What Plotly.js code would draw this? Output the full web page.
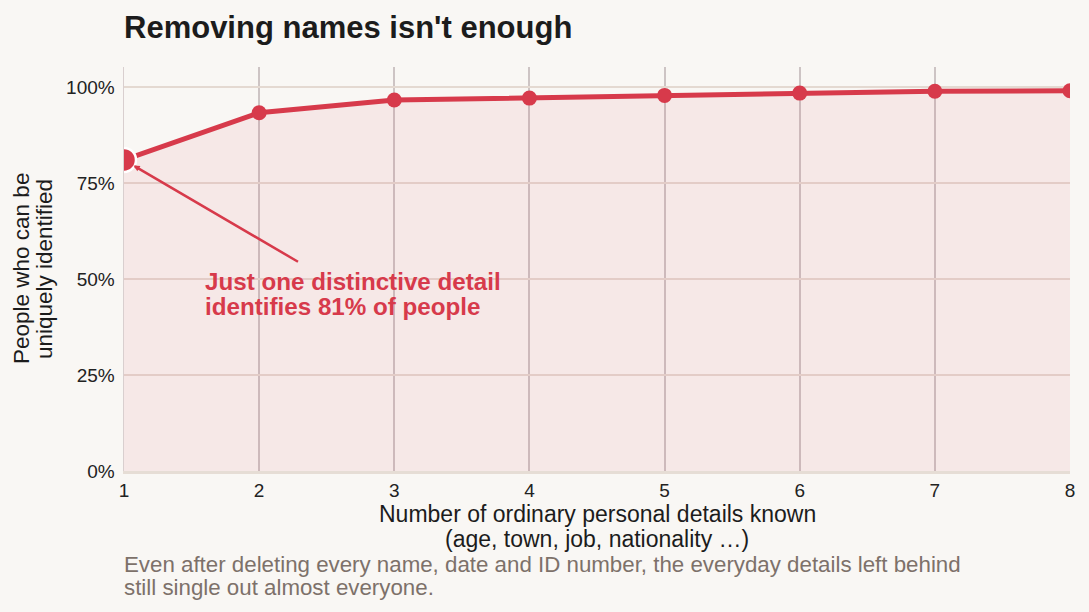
<!DOCTYPE html>
<html>
<head>
<meta charset="utf-8">
<script src="https://cdn.plot.ly/plotly-3.0.1.min.js"></script>
<style>
html,body{margin:0;padding:0;background:#f9f7f4;}
#chart{width:1089px;height:612px;}
</style>
</head>
<body>
<div id="chart"></div>
<script>
const detailsKnown = [1, 2, 3, 4, 5, 6, 7, 8];
const pctIdentified = [81, 93.3, 96.6, 97.1, 97.8, 98.4, 98.9, 99.0];
const highlightIndex = 0;
const yTickVals = [0, 25, 50, 75, 100];
const yTickText = ["0%", "25%", "50%", "75%", "100%"];
const titleText = "Removing names isn't enough";
const xTitleLines = ["Number of ordinary personal details known", "(age, town, job, nationality …)"];
const yTitleLines = ["People who can be", "uniquely identified"];
const calloutLines = ["Just one distinctive detail", "identifies 81% of people"];
const captionLines = [
  "Even after deleting every name, date and ID number, the everyday details left behind",
  "still single out almost everyone."
];

const RED = "#d73a4b";
const FONT = "Liberation Sans, Arial, sans-serif";

const traces = [
  {
    x: detailsKnown,
    y: pctIdentified,
    type: "scatter",
    mode: "lines+markers",
    fill: "tozeroy",
    fillcolor: "rgba(217,58,74,0.075)",
    line: {color: RED, width: 5},
    marker: {color: RED, size: 15, opacity: 1},
    hoverinfo: "skip",
    showlegend: false
  },
  {
    x: [detailsKnown[highlightIndex]],
    y: [pctIdentified[highlightIndex]],
    type: "scatter",
    mode: "markers",
    marker: {color: RED, size: 24, opacity: 1, line: {color: "#ffffff", width: 2.5}},
    hoverinfo: "skip",
    showlegend: false
  }
];

// plot area pixel helpers (for placing text relative to the paper)
const PLOT = {l: 124, r: 1070, t: 67, b: 471};
const px2paperX = px => (px - PLOT.l) / (PLOT.r - PLOT.l);
const py2paperY = py => (PLOT.b - py) / (PLOT.b - PLOT.t);

const annotations = [];
xTitleLines.forEach((t, i) => annotations.push({
  xref: "paper", yref: "paper", x: 0.5, y: py2paperY([514, 538.5][i]),
  xanchor: "center", yanchor: "middle", showarrow: false, text: t, borderpad: 0,
  font: {family: FONT, size: 23, color: "#1c1c1c"}
}));
yTitleLines.forEach((t, i) => annotations.push({
  xref: "paper", yref: "paper", x: px2paperX([21, 44][i]), y: py2paperY(269),
  xanchor: "center", yanchor: "middle", textangle: -90, showarrow: false, text: t, borderpad: 0,
  font: {family: FONT, size: 22.5, color: "#1c1c1c"}
}));
captionLines.forEach((t, i) => annotations.push({
  xref: "paper", yref: "paper", x: 0, xshift: -1, y: py2paperY([564, 587.5][i]),
  xanchor: "left", yanchor: "middle", showarrow: false, text: t, borderpad: 0,
  font: {family: FONT, size: 22.3, color: "#7d716a"}
}));
calloutLines.forEach((t, i) => annotations.push({
  xref: "paper", yref: "paper", x: px2paperX(205), xshift: -1, y: py2paperY([281, 306][i]),
  xanchor: "left", yanchor: "middle", showarrow: false, text: "<b>" + t + "</b>", borderpad: 0,
  font: {family: FONT, size: 24.2, color: RED}
}));
// arrow from callout to the highlighted point
annotations.push({
  x: detailsKnown[highlightIndex], y: pctIdentified[highlightIndex], xref: "x", yref: "y",
  text: " ", showarrow: true,
  ax: 176, ay: 103,
  arrowhead: 2, arrowsize: 0.5, arrowwidth: 2.5,
  arrowcolor: RED, standoff: 11,
  font: {size: 2}
});

const layout = {
  width: 1089,
  height: 612,
  paper_bgcolor: "#f9f7f4",
  plot_bgcolor: "#f9f7f4",
  margin: {l: 124, r: 19, t: 67, b: 141},
  font: {family: FONT, color: "#222222", size: 19},
  title: {
    text: "<b>" + titleText + "</b>",
    x: 0, xref: "paper", xanchor: "left",
    y: 0.955, yanchor: "middle",
    font: {family: FONT, size: 31, color: "#1c1c1c"}
  },
  xaxis: {
    range: [1, 8],
    tickvals: detailsKnown,
    ticktext: detailsKnown.map(String),
    showgrid: true,
    gridcolor: "#cdc4c4",
    gridwidth: 2,
    zeroline: false,
    showline: true,
    linecolor: "#e6ddd5",
    linewidth: 3,
    ticks: "",
    tickfont: {size: 19, color: "#222"},
    fixedrange: true
  },
  yaxis: {
    range: [0, 105.2],
    tickvals: yTickVals,
    ticktext: yTickText,
    showgrid: true,
    gridcolor: "#e4d9d1",
    gridwidth: 2,
    zeroline: false,
    showline: true,
    linecolor: "#d9cfcf",
    linewidth: 1.5,
    ticks: "",
    ticklabelstandoff: 4,
    tickfont: {size: 19, color: "#222"},
    fixedrange: true
  },
  annotations: annotations
};

Plotly.newPlot("chart", traces, layout, {displayModeBar: false, staticPlot: true});
</script>
</body>
</html>
